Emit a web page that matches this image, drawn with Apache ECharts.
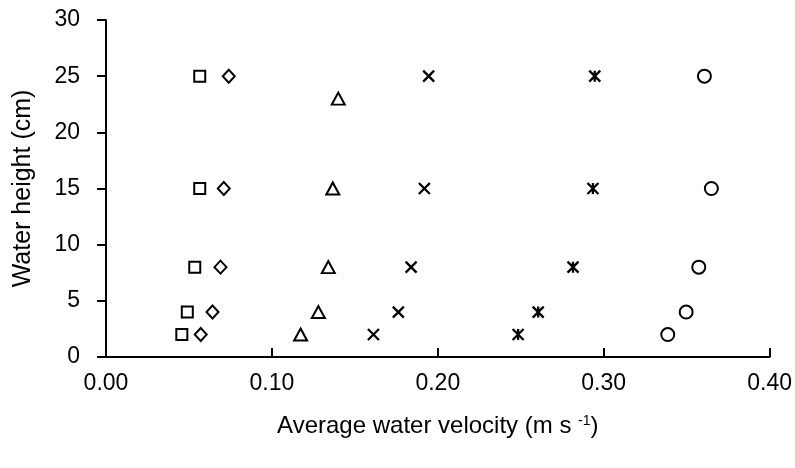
<!DOCTYPE html>
<html>
<head>
<meta charset="utf-8">
<script src="https://cdn.jsdelivr.net/npm/echarts@6/dist/echarts.min.js"></script>
<style>
  html, body { margin: 0; padding: 0; background: #fff; }
  #chart { width: 795px; height: 468px; }
</style>
</head>
<body>
<div id="chart"></div>
<script>
// Water heights (cm) sampled for each flow condition
const heightsA = [25, 15, 8, 4, 2];
const heightsB = [23, 15, 8, 4, 2];

// Average water velocity (m s-1) per flow condition
const velSquare   = [0.0565, 0.0565, 0.0535, 0.0490, 0.0457];
const velDiamond  = [0.0740, 0.0710, 0.0690, 0.0642, 0.0571];
const velTriangle = [0.1400, 0.1367, 0.1340, 0.1280, 0.1173];
const velCross    = [0.1945, 0.1919, 0.1839, 0.1762, 0.1612];
const velStar     = [0.2946, 0.2935, 0.2815, 0.2605, 0.2484];
const velCircle   = [0.3607, 0.3649, 0.3573, 0.3497, 0.3386];

const xTicks = [0, 0.1, 0.2, 0.3, 0.4];

const FONT = "'Liberation Sans', Arial, sans-serif";

const pairs = (xs, ys) => xs.map((v, i) => [v, ys[i]]);

function markerSeries(name, xs, ys, symbol, size) {
  return {
    name: name,
    type: 'scatter',
    data: pairs(xs, ys),
    symbol: symbol,
    symbolSize: size,
    itemStyle: { color: '#fff', borderColor: '#000', borderWidth: 2, opacity: 1 },
    emphasis: { disabled: true },
    z: 3
  };
}

function strokeSeries(name, xs, ys, path, size) {
  return {
    name: name,
    type: 'scatter',
    data: pairs(xs, ys),
    symbol: path,
    symbolSize: size,
    itemStyle: { color: 'rgba(0,0,0,0)', borderColor: '#000', borderWidth: 2.3, opacity: 1 },
    emphasis: { disabled: true },
    z: 3
  };
}

const chart = echarts.init(document.getElementById('chart'), null, { renderer: 'canvas' });

chart.setOption({
  animation: false,
  backgroundColor: '#fff',
  grid: { left: 106, right: 24, top: 20, bottom: 111, containLabel: false },
  xAxis: {
    type: 'value',
    min: xTicks[0],
    max: xTicks[xTicks.length - 1],
    interval: 0.1,
    name: 'Average water velocity (m s {sup|-1})',
    nameLocation: 'middle',
    nameGap: 57,
    nameTextStyle: {
      fontFamily: FONT, fontSize: 24, color: '#000',
      rich: { sup: { fontFamily: FONT, fontSize: 14, color: '#000', verticalAlign: 'top', padding: [0, 0, 10, 0] } }
    },
    axisLine: { show: true, onZero: false, lineStyle: { color: '#000', width: 2 } },
    axisTick: { show: true, inside: true, length: 9, lineStyle: { color: '#000', width: 2 } },
    axisLabel: {
      margin: 15, fontFamily: FONT, fontSize: 23, color: '#000',
      formatter: v => v.toFixed(2)
    },
    splitLine: { show: false }
  },
  yAxis: {
    type: 'value',
    min: 0,
    max: 30,
    interval: 5,
    name: 'Water height (cm)',
    nameLocation: 'middle',
    nameGap: 70,
    nameRotate: 90,
    nameTextStyle: { fontFamily: FONT, fontSize: 25, color: '#000' },
    axisLine: { show: true, onZero: false, lineStyle: { color: '#000', width: 2 } },
    axisTick: { show: true, inside: false, length: 9, lineStyle: { color: '#000', width: 2 } },
    axisLabel: { margin: 26, fontFamily: FONT, fontSize: 23, color: '#000' },
    splitLine: { show: false }
  },
  series: [
    markerSeries('square', velSquare, heightsA, 'rect', [11, 11]),
    markerSeries('diamond', velDiamond, heightsA, 'diamond', [12, 13]),
    markerSeries('triangle', velTriangle, heightsB, 'triangle', [13, 12]),
    strokeSeries('cross', velCross, heightsA, 'path://M0,0L10,10M10,0L0,10', [11, 11]),
    strokeSeries('star', velStar, heightsA, 'path://M0,0L10,10M10,0L0,10M5,0L5,10', [11, 11]),
    markerSeries('circle', velCircle, heightsA, 'circle', 13)
  ]
});
</script>
</body>
</html>
